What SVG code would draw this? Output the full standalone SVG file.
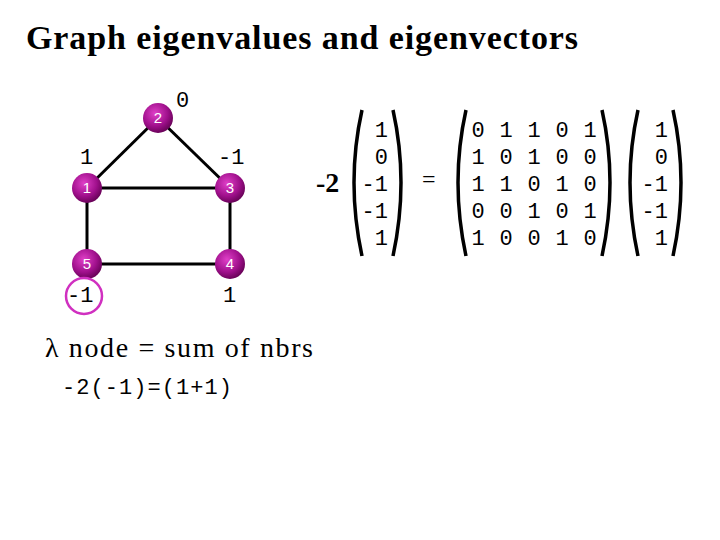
<svg xmlns="http://www.w3.org/2000/svg" width="720" height="540" viewBox="0 0 720 540">
<defs>
<radialGradient id="g" cx="0.4" cy="0.35" r="0.7"><stop offset="0" stop-color="#e040c8"/><stop offset="0.6" stop-color="#a0108c"/><stop offset="1" stop-color="#600050"/></radialGradient>
</defs>
<style>
.m{font-family:"Liberation Mono",monospace;font-size:22px;fill:#000}
.n{font-family:"Liberation Sans",sans-serif;font-size:15px;fill:#fff;text-anchor:middle}
.p{fill:none;stroke:#000;stroke-width:3.5}
</style>
<rect width="720" height="540" fill="#fff"/>
<text x="26" y="49" font-family="Liberation Serif,serif" font-size="34" font-weight="bold" textLength="552">Graph eigenvalues and eigenvectors</text>
<g id="edges" stroke="#000" stroke-width="3">
<line x1="158" y1="118" x2="87" y2="188"/><line x1="158" y1="118" x2="230" y2="188"/>
<line x1="87" y1="188" x2="230" y2="188"/><line x1="87" y1="188" x2="87" y2="264"/>
<line x1="230" y1="188" x2="230" y2="264"/><line x1="87" y1="264" x2="230" y2="264"/>
</g>
<g id="n2"><circle cx="158" cy="118" r="15" fill="url(#g)"/><text class="n" x="158" y="123">2</text></g>
<g id="n1"><circle cx="87" cy="188" r="15" fill="url(#g)"/><text class="n" x="87" y="193">1</text></g>
<g id="n3"><circle cx="230" cy="188" r="15" fill="url(#g)"/><text class="n" x="230" y="193">3</text></g>
<g id="n5"><circle cx="87" cy="264" r="15" fill="url(#g)"/><text class="n" x="87" y="269">5</text></g>
<g id="n4"><circle cx="230" cy="264" r="15" fill="url(#g)"/><text class="n" x="230" y="269">4</text></g>
<text class="m" x="176" y="107">0</text>
<text class="m" x="80" y="164">1</text>
<text class="m" x="218" y="164">-1</text>
<text class="m" x="67" y="302">-1</text>
<text class="m" x="223" y="302">1</text>
<circle cx="84" cy="296" r="18" fill="none" stroke="#d030c0" stroke-width="2.5"/>
<text x="45" y="357" font-family="Liberation Serif,serif" font-size="28" textLength="268">λ node = sum of nbrs</text>
<text class="m" x="62" y="394" textLength="170">-2(-1)=(1+1)</text>
<text x="316" y="192" font-family="Liberation Serif,serif" font-size="28" font-weight="bold">-2</text>
<text x="422" y="187" font-family="Liberation Serif,serif" font-size="24">=</text>
<g class="m" text-anchor="end">
<text x="388" y="137">1</text><text x="388" y="164">0</text><text x="388" y="191">-1</text><text x="388" y="218">-1</text><text x="388" y="245">1</text>
<text x="668" y="137">1</text><text x="668" y="164">0</text><text x="668" y="191">-1</text><text x="668" y="218">-1</text><text x="668" y="245">1</text>
</g>
<g class="m" text-anchor="middle">
<text x="478" y="137">0</text><text x="506" y="137">1</text><text x="534" y="137">1</text><text x="562" y="137">0</text><text x="590" y="137">1</text>
<text x="478" y="164">1</text><text x="506" y="164">0</text><text x="534" y="164">1</text><text x="562" y="164">0</text><text x="590" y="164">0</text>
<text x="478" y="191">1</text><text x="506" y="191">1</text><text x="534" y="191">0</text><text x="562" y="191">1</text><text x="590" y="191">0</text>
<text x="478" y="218">0</text><text x="506" y="218">0</text><text x="534" y="218">1</text><text x="562" y="218">0</text><text x="590" y="218">1</text>
<text x="478" y="245">1</text><text x="506" y="245">0</text><text x="534" y="245">0</text><text x="562" y="245">1</text><text x="590" y="245">0</text>
</g>
<path class="p" d="M362 110 Q346 182 362 256"/><path class="p" d="M393 110 Q409 182 393 256"/>
<path class="p" d="M466 110 Q450 182 466 256"/><path class="p" d="M602 110 Q618 182 602 256"/>
<path class="p" d="M638 110 Q622 182 638 256"/><path class="p" d="M673 110 Q689 182 673 256"/>
</svg>
